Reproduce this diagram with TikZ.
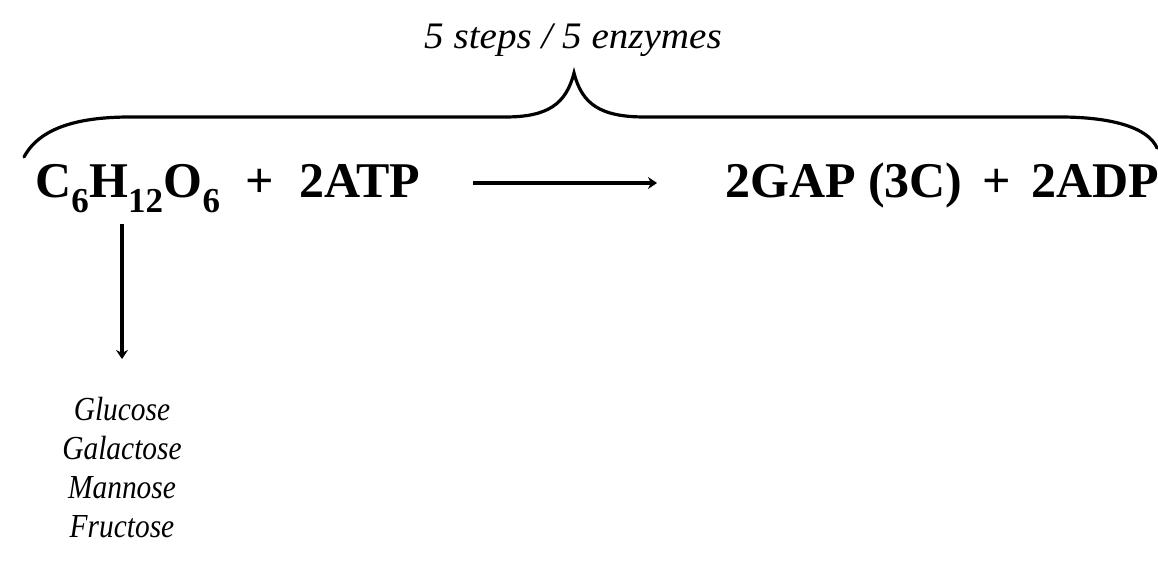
\documentclass[tikz,border=0pt]{standalone}
\usepackage{fontspec}
\setmainfont{Liberation Serif}
\usetikzlibrary{arrows.meta}
\begin{document}
\begin{tikzpicture}[x=1pt,y=1pt,
  eq/.style={font=\fontsize{50}{52}\selectfont\bfseries, inner sep=0pt},
  ital/.style={inner sep=0pt},
  bracepath/.style={line width=3.2pt, line cap=round, line join=miter},
  arr/.style={line width=3.5pt, -{Stealth[length=9pt,width=12pt]}}]
\useasboundingbox (0,0) rectangle (1158,-585);
% top label
\node[inner sep=0pt] (lbl) at (573,-40) {\scalebox{1.15}[1.1]{\fontsize{34}{36}\selectfont\itshape 5 steps / 5 enzymes}};
% brace
\coordinate (bl) at (24,-157);
\coordinate (tip) at (574,-73);
\coordinate (br) at (1157,-148);
\draw[bracepath] (bl) .. controls (40,-127) and (80,-117) .. (130,-117) -- (505,-117)
  .. controls (548,-117) and (566,-104) .. (tip)
  .. controls (582,-104) and (600,-117) .. (645,-117) -- (1060,-117)
  .. controls (1110,-117) and (1148,-127) .. (br);
% equation
\node[eq, anchor=base west] (lhs) at (35,-198) {C\textsubscript{6}H\textsubscript{12}O\textsubscript{6}\ \ +\ \ 2ATP};
\node[eq, anchor=base east] (rhs) at (1159,-198) {2GAP (3C)\hspace{20pt}+\hspace{20pt}2ADP};
\coordinate (h1) at (473,-183);
\coordinate (h2) at (657,-183);
\draw[arr] (h1) -- (h2);
\coordinate (v1) at (122,-224);
\coordinate (v2) at (122,-359);
\draw[arr] (v1) -- (v2);
% sugars
\node[ital, anchor=north] (sugars) at (122,-393) {\scalebox{1.05}[1.2]{\fontsize{28}{32.5}\selectfont\itshape
  \begin{tabular}{@{}c@{}}Glucose\\Galactose\\Mannose\\Fructose\end{tabular}}};
\end{tikzpicture}
\end{document}
